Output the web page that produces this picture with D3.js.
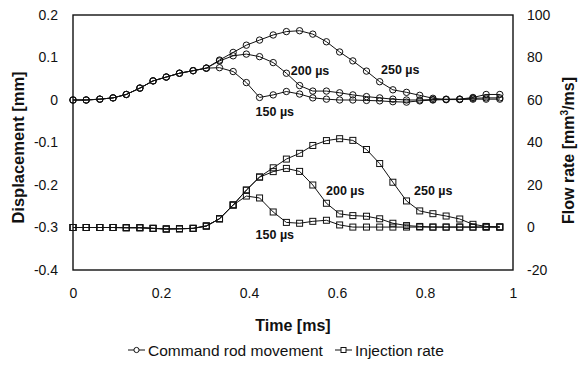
<!DOCTYPE html>
<html>
<head>
<meta charset="utf-8">
<script src="https://cdn.jsdelivr.net/npm/d3@7/dist/d3.min.js"></script>
<style>
  html, body { margin: 0; padding: 0; background: #fff; }
  svg { display: block; font-family: Arial, "Liberation Sans", sans-serif; }
</style>
</head>
<body>
<svg id="chart" width="582" height="366"></svg>
<script>
// ---- data ----
const time = [0, 0.030, 0.061, 0.091, 0.121, 0.152, 0.182, 0.212, 0.242, 0.273, 0.303,
  0.333, 0.364, 0.394, 0.424, 0.455, 0.485, 0.515, 0.545, 0.576, 0.606, 0.636,
  0.667, 0.697, 0.727, 0.758, 0.788, 0.818, 0.848, 0.879, 0.909, 0.939, 0.970];

// Command rod movement, displacement [mm] (left axis)
const rod150 = [0, 0, 0.002, 0.005, 0.013, 0.028, 0.045, 0.054, 0.063, 0.069, 0.075,
  0.076, 0.067, 0.041, 0.006, 0.012, 0.020, 0.014, 0.005, 0.002, 0, 0,
  -0.001, -0.002, -0.004, -0.005, -0.002, 0, 0.001, 0.001, 0.002, 0.002, 0.002];
const rod200 = [0, 0, 0.002, 0.005, 0.013, 0.028, 0.045, 0.054, 0.063, 0.069, 0.075,
  0.092, 0.104, 0.108, 0.102, 0.088, 0.063, 0.034, 0.021, 0.021, 0.017, 0.012,
  0.008, 0.005, 0.002, 0, 0, 0.001, 0.002, 0.002, 0.004, 0.005, 0.005];
const rod250 = [0, 0, 0.002, 0.005, 0.013, 0.028, 0.045, 0.054, 0.063, 0.069, 0.075,
  0.094, 0.112, 0.129, 0.141, 0.153, 0.161, 0.163, 0.155, 0.137, 0.113, 0.092,
  0.068, 0.043, 0.024, 0.018, 0.011, 0.004, 0.001, 0.002, 0.006, 0.013, 0.013];

// Injection rate, flow rate [mm3/ms] (right axis)
const inj150 = [0, 0, 0, 0, -0.1, -0.1, -0.4, -0.7, -0.6, -0.4, 0.7, 4.1, 10.6,
  14.8, 13.9, 7.3, 2.4, 2.0, 2.9, 3.4, 1.2, 0.2, 0.2, 0.2, 0.2, 0.2, 0.2, 0.2,
  0.2, 0.2, 0.2, 0.2, 0.2];
const inj200 = [0, 0, 0, 0, -0.1, -0.1, -0.4, -0.7, -0.6, -0.4, 0.7, 4.1, 10.6,
  17.6, 23.7, 26.3, 27.8, 26.4, 20.0, 11.4, 6.4, 5.6, 5.3, 4.1, 2.0, 0.9, 0.5,
  0.2, 0.2, 0.2, 0.2, 0.2, 0.2];
const inj250 = [0, 0, 0, 0, -0.1, -0.1, -0.4, -0.7, -0.6, -0.4, 0.7, 4.1, 10.6,
  17.6, 23.8, 28.1, 32.2, 34.9, 38.6, 40.9, 41.8, 41.0, 36.7, 30.1, 21.3, 12.5,
  7.8, 6.5, 5.4, 4.0, 1.5, 0.5, 0.3];

const xTicks = [0, 0.2, 0.4, 0.6, 0.8, 1];
const leftTicks = [0.2, 0.1, 0, -0.1, -0.2, -0.3, -0.4];
const rightTicks = [100, 80, 60, 40, 20, 0, -20];

const curveLabels = [
  {text: "150 µs", axis: "left", t: 0.415, v: -0.038},
  {text: "200 µs", axis: "left", t: 0.495, v: 0.06},
  {text: "250 µs", axis: "left", t: 0.70, v: 0.062},
  {text: "200 µs", axis: "right", t: 0.575, v: 15.5},
  {text: "250 µs", axis: "right", t: 0.775, v: 15.5},
  {text: "150 µs", axis: "right", t: 0.415, v: -5.5}
];

// ---- layout ----
const svg = d3.select("#chart");
const L = 73, R = 513, T = 15, B = 270;

const x = d3.scaleLinear().domain([0, 1]).range([L, R]);
const yL = d3.scaleLinear().domain([-0.4, 0.2]).range([B, T]);
const yR = d3.scaleLinear().domain([-20, 100]).range([B, T]);

const fmt = d => String(d);

// axes (labels only)
const gx = svg.append("g").attr("transform", `translate(0,${B})`)
  .call(d3.axisBottom(x).tickValues(xTicks).tickSize(0).tickPadding(18).tickFormat(fmt));
const gl = svg.append("g").attr("transform", `translate(${L},0)`)
  .call(d3.axisLeft(yL).tickValues(leftTicks).tickSize(0).tickPadding(15).tickFormat(fmt));
const gr = svg.append("g").attr("transform", `translate(${R},0)`)
  .call(d3.axisRight(yR).tickValues(rightTicks).tickSize(0).tickPadding(14).tickFormat(fmt));
[gx, gl, gr].forEach(g => {
  g.select(".domain").remove();
  g.selectAll("text").attr("font-size", 14).attr("fill", "#111")
    .attr("font-family", "Arial, 'Liberation Sans', sans-serif");
});

// frame
svg.append("rect").attr("x", L).attr("y", T).attr("width", R - L).attr("height", B - T)
  .attr("fill", "none").attr("stroke", "#111").attr("stroke-width", 1.4);

// series
const rodSeries = [rod150, rod200, rod250];
const injSeries = [inj150, inj200, inj250];

const lineL = d3.line().x((d, i) => x(time[i])).y(d => yL(d));
const lineR = d3.line().x((d, i) => x(time[i])).y(d => yR(d));

injSeries.forEach(s => {
  svg.append("path").attr("d", lineR(s)).attr("fill", "none")
    .attr("stroke", "#111").attr("stroke-width", 1);
  svg.append("g").selectAll("rect").data(s).join("rect")
    .attr("x", (d, i) => x(time[i]) - 3).attr("y", d => yR(d) - 3)
    .attr("width", 6).attr("height", 6)
    .attr("fill", "none").attr("stroke", "#111").attr("stroke-width", 1);
});

rodSeries.forEach(s => {
  svg.append("path").attr("d", lineL(s)).attr("fill", "none")
    .attr("stroke", "#111").attr("stroke-width", 1);
  svg.append("g").selectAll("circle").data(s).join("circle")
    .attr("cx", (d, i) => x(time[i])).attr("cy", d => yL(d)).attr("r", 3.2)
    .attr("fill", "none").attr("stroke", "#111").attr("stroke-width", 1);
});

// curve labels
svg.append("g").selectAll("text").data(curveLabels).join("text")
  .attr("x", d => x(d.t))
  .attr("y", d => d.axis === "left" ? yL(d.v) : yR(d.v))
  .attr("font-size", 12.5).attr("font-weight", "bold").attr("fill", "#111")
  .text(d => d.text);

// axis titles
svg.append("text").attr("x", (L + R) / 2).attr("y", 331)
  .attr("text-anchor", "middle").attr("font-size", 16).attr("font-weight", "bold")
  .attr("fill", "#111").text("Time [ms]");

svg.append("text").attr("transform", `translate(24,${(T + B) / 2 + 5}) rotate(-90)`)
  .attr("text-anchor", "middle").attr("font-size", 16.5).attr("font-weight", "bold")
  .attr("fill", "#111").text("Displacement [mm]");

const rt = svg.append("text").attr("transform", `translate(574,${(T + B) / 2 + 8}) rotate(-90)`)
  .attr("text-anchor", "middle").attr("font-size", 16).attr("font-weight", "bold")
  .attr("fill", "#111");
rt.append("tspan").text("Flow rate [mm");
rt.append("tspan").attr("dy", -6).attr("font-size", 10).text("3");
rt.append("tspan").attr("dy", 6).text("/ms]");

// legend
const leg = svg.append("g");
const legItems = [
  {label: "Command rod movement", marker: "circle", x0: 128},
  {label: "Injection rate", marker: "square", x0: 335}
];
const ly = 350;
legItems.forEach(it => {
  leg.append("line").attr("x1", it.x0).attr("x2", it.x0 + 17).attr("y1", ly).attr("y2", ly)
    .attr("stroke", "#111").attr("stroke-width", 1);
  if (it.marker === "circle") {
    leg.append("circle").attr("cx", it.x0 + 8.5).attr("cy", ly).attr("r", 2.6)
      .attr("fill", "#fff").attr("stroke", "#111");
  } else {
    leg.append("rect").attr("x", it.x0 + 6).attr("y", ly - 2.5).attr("width", 5).attr("height", 5)
      .attr("fill", "#fff").attr("stroke", "#111");
  }
  leg.append("text").attr("x", it.x0 + 20).attr("y", ly + 5.5)
    .attr("font-size", 15.5).attr("fill", "#111").text(it.label);
});
</script>
</body>
</html>
